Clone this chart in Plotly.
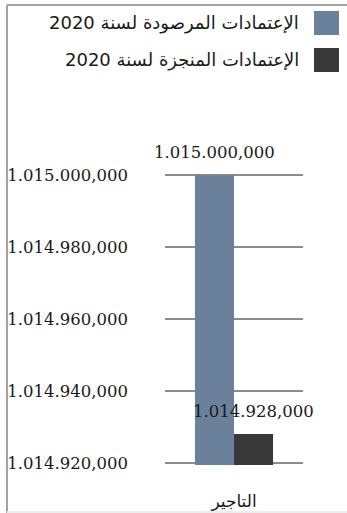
import plotly.graph_objects as go

# data
categories = ['التاجير']
seriesNames = ['الإعتمادات المرصودة لسنة 2020', 'الإعتمادات المنجزة لسنة 2020']
plannedValues = [1015000000]
achievedValues = [1014928000]
tickValues = [1014920000, 1014940000, 1014960000, 1014980000, 1015000000]

COLORS = {
  'planned': '#6a809b',
  'achieved': '#393939',
  'grid': '#8c8c8c',
  'text': '#1a1a1a',
  'frame': '#a3a3a3'
}

W, H = 347, 513
L, R, T, B = 165, 44, 173, 48
PAD = 600  # keeps the end gridlines from being dropped


def fmtNum(v):
  parts = f'{v:,}'.split(',')
  return '.'.join(parts[:-1]) + ',' + parts[-1]


def px(x):
  return (x - L) / (W - L - R)


def py(y):
  return (H - B - y) / (H - T - B)


fig = go.Figure()
fig.add_trace(go.Bar(
  name=seriesNames[0],
  x=categories,
  y=plannedValues,
  width=0.283,
  offset=-0.283,
  marker=dict(color=COLORS['planned'], line=dict(width=0)),
  showlegend=False
))
fig.add_trace(go.Bar(
  name=seriesNames[1],
  x=categories,
  y=achievedValues,
  width=0.283,
  offset=0,
  marker=dict(color=COLORS['achieved'], line=dict(width=0)),
  showlegend=False
))

# data labels
labelFont = dict(family='DejaVu Serif', size=16.5, color=COLORS['text'])
for vals, shift in ((plannedValues, -20), (achievedValues, 19)):
  for c, v in zip(categories, vals):
    fig.add_annotation(
      x=c, y=v, text=fmtNum(v), showarrow=False,
      xshift=shift, yshift=23, yanchor='middle', font=labelFont
    )

# legend (swatch on the right, text right-aligned)
legendRows = [(23, COLORS['planned']), (60, COLORS['achieved'])]
for name, (rowY, col) in zip(seriesNames, legendRows):
  fig.add_shape(
    type='rect', xref='paper', yref='paper',
    x0=px(314), x1=px(339), y0=py(rowY - 12), y1=py(rowY + 12),
    fillcolor=col, line=dict(width=0)
  )
  fig.add_annotation(
    xref='paper', yref='paper', x=px(301), y=py(rowY),
    text=name, showarrow=False, xanchor='right', yanchor='middle',
    font=dict(family='DejaVu Sans', size=18, color=COLORS['text'])
  )

# frame
fig.add_shape(type='line', xref='paper', yref='paper',
  x0=px(7), x1=px(7), y0=py(5), y1=py(513), line=dict(color=COLORS['frame'], width=2))
fig.add_shape(type='line', xref='paper', yref='paper',
  x0=px(7), x1=px(347), y0=py(5), y1=py(5), line=dict(color=COLORS['frame'], width=2))
fig.add_shape(type='line', xref='paper', yref='paper',
  x0=px(7), x1=px(347), y0=py(512), y1=py(512), line=dict(color='#ececec', width=2))

fig.update_layout(
  width=W,
  height=H,
  margin=dict(l=L, r=R, t=T, b=B, pad=0, autoexpand=False),
  plot_bgcolor='white',
  paper_bgcolor='white',
  barmode='group',
  showlegend=False,
  xaxis=dict(
    range=[-0.5, 0.5],
    showgrid=False,
    zeroline=False,
    showline=False,
    ticks='',
    ticklabelstandoff=24,
    tickfont=dict(family='DejaVu Sans', size=17, color=COLORS['text'])
  ),
  yaxis=dict(
    range=[tickValues[0] - PAD, tickValues[-1] + PAD],
    tickvals=tickValues,
    ticktext=[fmtNum(v) for v in tickValues],
    showgrid=True,
    gridcolor=COLORS['grid'],
    gridwidth=2,
    zeroline=False,
    showline=False,
    ticks='',
    ticklabelstandoff=36,
    tickfont=dict(family='DejaVu Serif', size=16.5, color=COLORS['text'])
  )
)

fig.write_html(
  'out.html',
  config={'displayModeBar': False},
  post_script="document.body.style.margin='0';"
)
